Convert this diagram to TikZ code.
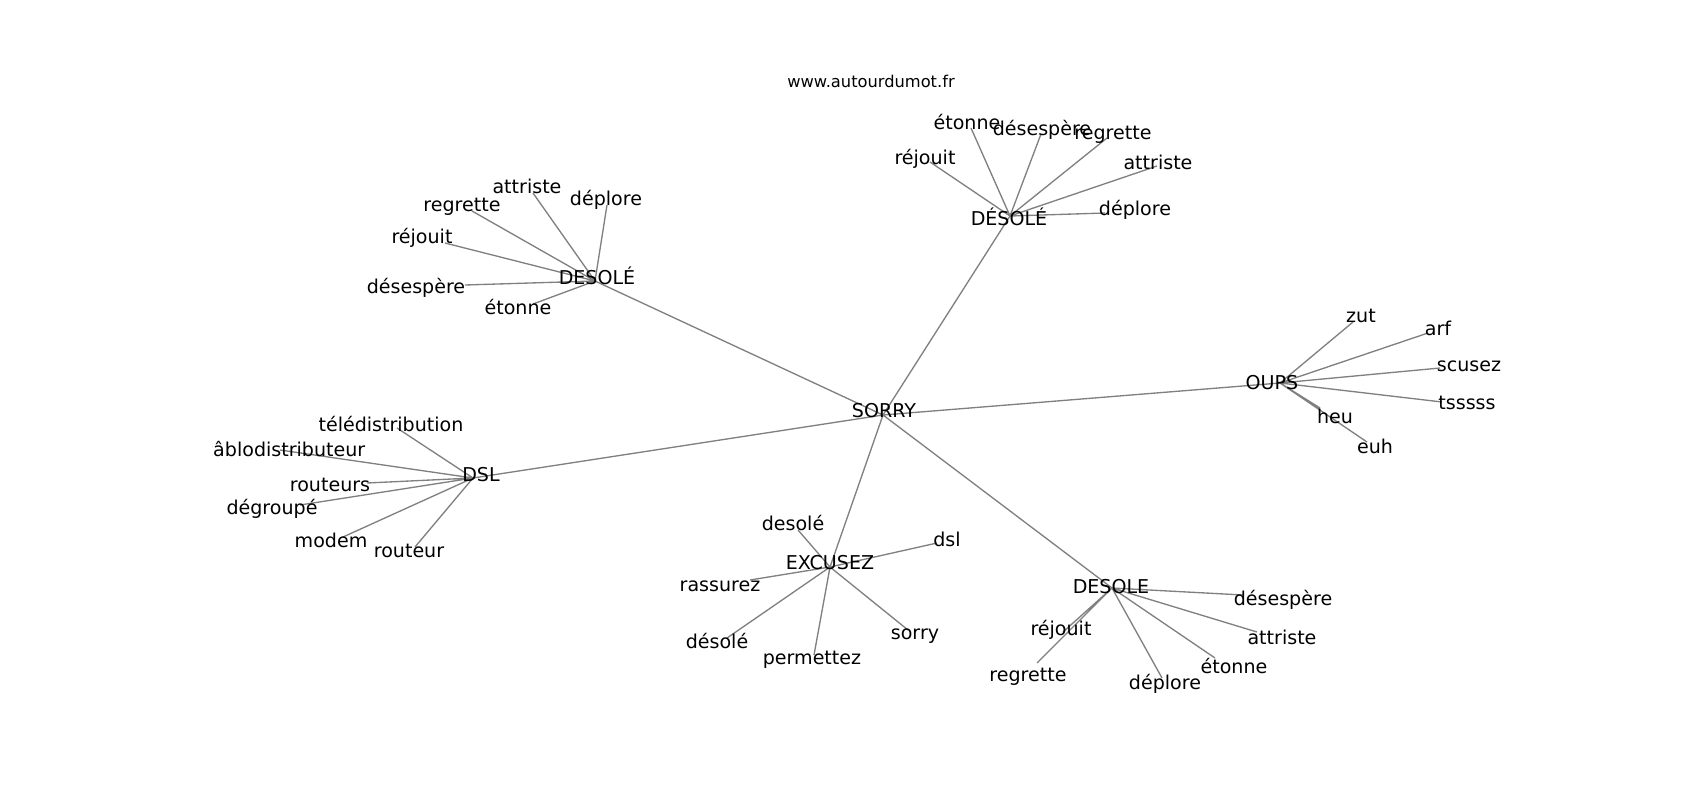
\documentclass[tikz,border=0pt]{standalone}
\usepackage{fontspec}
\setmainfont{DejaVu Sans}
\begin{document}
\begin{tikzpicture}[x=0.75pt,y=0.75pt,yscale=-1,xscale=1,
            lien/.style={draw={rgb, 255:red, 128; green, 128; blue, 128 }, line width=1pt},
            mot/.style={inner sep=0pt, text height=0.92em, text depth=0pt, font=\fontsize{14.3}{17}\selectfont},
            titre/.style={inner sep=0pt, text height=0.7em, text depth=0pt, font=\fontsize{12.2}{15}\selectfont}]
            \useasboundingbox (0,0) rectangle (1700,800);
            \node [titre] (site) at (871,83) {www.autourdumot.fr};
            \begin{scope}
            \clip (212.5,96) rectangle (1530,712);
            \coordinate (sorry) at (883,415);
            \coordinate (desoleG) at (595,281);
            \coordinate (desoleH) at (1010,216);
            \coordinate (dsl) at (473,478);
            \coordinate (excusez) at (830,567);
            \coordinate (desoleB) at (1112,588);
            \coordinate (oups) at (1280,383);
            \coordinate (g1) at (533,193); \coordinate (g2) at (607,205); \coordinate (g3) at (472,211);
            \coordinate (g4) at (445,243); \coordinate (g5) at (465,285); \coordinate (g6) at (533,304);
            \coordinate (h1) at (971,128); \coordinate (h2) at (1041,134); \coordinate (h3) at (1107,138);
            \coordinate (h4) at (930,162); \coordinate (h5) at (1157,166); \coordinate (h6) at (1105,213);
            \coordinate (d1) at (397,428); \coordinate (d2) at (280,450); \coordinate (d3) at (367,483);
            \coordinate (d4) at (300,505); \coordinate (d5) at (343,537); \coordinate (d6) at (415,547);
            \coordinate (e1) at (798,530); \coordinate (e2) at (937,543); \coordinate (e3) at (750,580);
            \coordinate (e4) at (727,638); \coordinate (e5) at (814,655); \coordinate (e6) at (908,630);
            \coordinate (b1) at (1243,595); \coordinate (b2) at (1063,632); \coordinate (b3) at (1037,663);
            \coordinate (b4) at (1162,678); \coordinate (b5) at (1215,658); \coordinate (b6) at (1257,632);
            \coordinate (o1) at (1353,322); \coordinate (o2) at (1428,333); \coordinate (o3) at (1440,368);
            \coordinate (o4) at (1442,402); \coordinate (o5) at (1320,408); \coordinate (o6) at (1367,442);
            \draw [lien] (sorry) -- (desoleG) (sorry) -- (desoleH) (sorry) -- (dsl) (sorry) -- (excusez) (sorry) -- (desoleB) (sorry) -- (oups) ;
            \draw [lien] (desoleG) -- (g1) (desoleG) -- (g2) (desoleG) -- (g3) (desoleG) -- (g4) (desoleG) -- (g5) (desoleG) -- (g6) ;
            \draw [lien] (desoleH) -- (h1) (desoleH) -- (h2) (desoleH) -- (h3) (desoleH) -- (h4) (desoleH) -- (h5) (desoleH) -- (h6) ;
            \draw [lien] (dsl) -- (d1) (dsl) -- (d2) (dsl) -- (d3) (dsl) -- (d4) (dsl) -- (d5) (dsl) -- (d6) ;
            \draw [lien] (excusez) -- (e1) (excusez) -- (e2) (excusez) -- (e3) (excusez) -- (e4) (excusez) -- (e5) (excusez) -- (e6) ;
            \draw [lien] (desoleB) -- (b1) (desoleB) -- (b2) (desoleB) -- (b3) (desoleB) -- (b4) (desoleB) -- (b5) (desoleB) -- (b6) ;
            \draw [lien] (oups) -- (o1) (oups) -- (o2) (oups) -- (o3) (oups) -- (o4) (oups) -- (o5) (oups) -- (o6) ;
            \node [mot] (tsorry) at (884,411) {SORRY};
            \node [mot] (tdesoleG) at (597,278) {DESOLÉ};
            \node [mot] (tdesoleH) at (1009,219) {DÉSOLÉ};
            \node [mot] (tdsl) at (481,475) {DSL};
            \node [mot] (texcusez) at (830,563) {EXCUSEZ};
            \node [mot] (tdesoleB) at (1111,587) {DESOLE};
            \node [mot] (toups) at (1272,383) {OUPS};
            \node [mot] (tg1) at (527,187) {attriste};
            \node [mot] (tg2) at (606,199) {déplore};
            \node [mot] (tg3) at (462,205) {regrette};
            \node [mot] (tg4) at (422,237) {réjouit};
            \node [mot] (tg5) at (416,287) {désespère};
            \node [mot] (tg6) at (518,308) {étonne};
            \node [mot] (th1) at (967,123) {étonne};
            \node [mot] (th2) at (1042,129) {désespère};
            \node [mot] (th3) at (1113,133) {regrette};
            \node [mot] (th4) at (925,158) {réjouit};
            \node [mot] (th5) at (1158,163) {attriste};
            \node [mot] (th6) at (1135,209) {déplore};
            \node [mot] (td1) at (391,425) {télédistribution};
            \node [mot] (td2) at (284,450) {câblodistributeur};
            \node [mot] (td3) at (330,485) {routeurs};
            \node [mot] (td4) at (272,508) {dégroupé};
            \node [mot] (td5) at (331,541) {modem};
            \node [mot] (td6) at (409,551) {routeur};
            \node [mot] (te1) at (793,524) {desolé};
            \node [mot] (te2) at (947,540) {dsl};
            \node [mot] (te3) at (720,585) {rassurez};
            \node [mot] (te4) at (717,642) {désolé};
            \node [mot] (te5) at (812,658) {permettez};
            \node [mot] (te6) at (915,633) {sorry};
            \node [mot] (tb1) at (1283,599) {désespère};
            \node [mot] (tb2) at (1061,629) {réjouit};
            \node [mot] (tb3) at (1028,675) {regrette};
            \node [mot] (tb4) at (1165,683) {déplore};
            \node [mot] (tb5) at (1234,667) {étonne};
            \node [mot] (tb6) at (1282,638) {attriste};
            \node [mot] (to1) at (1361,316) {zut};
            \node [mot] (to2) at (1438,329) {arf};
            \node [mot] (to3) at (1469,365) {scusez};
            \node [mot] (to4) at (1467,403) {tsssss};
            \node [mot] (to5) at (1335,417) {heu};
            \node [mot] (to6) at (1375,447) {euh};
            \end{scope}
            \end{tikzpicture}
\end{document}
